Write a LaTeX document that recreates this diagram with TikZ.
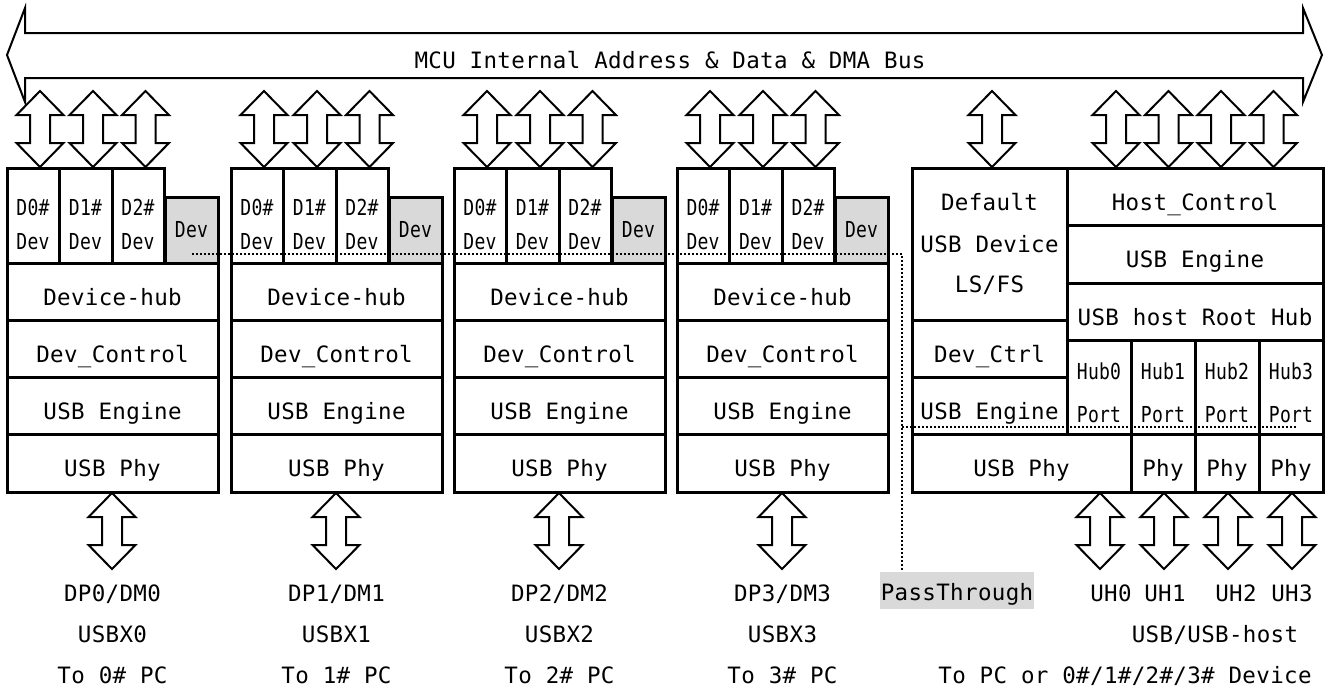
\documentclass[tikz,border=0pt]{standalone}
\usepackage{fontspec}
\setmainfont[LetterSpace=1.5]{DejaVu Sans Mono}
\newfontfamily\smallf[FakeStretch=0.82,LetterSpace=1]{DejaVu Sans Mono}
\definecolor{greyfill}{RGB}{217,217,217}
\begin{document}
\begin{tikzpicture}[x=1pt,y=-1pt,
  font=\fontsize{22.5}{26}\selectfont,
  lay/.style={draw, line width=3pt, inner sep=0pt, outer sep=0pt, text height=27pt, text depth=0pt},
  greybox/.style={lay, fill=greyfill, text height=14pt},
  lbl/.style={inner sep=0pt, anchor=base},
  sml/.style={lbl, font=\smallf\fontsize{22}{26}\selectfont},
  arr/.style={draw, line width=2pt, fill=white, line join=miter},
  dots/.style={line width=2.2pt, dash pattern=on 2pt off 2pt},
  dbl/.pic={\path[arr] (0,0) -- (23.5,24) -- (10,24) -- (10,52) -- (23.5,52) -- (0,76)
     -- (-23.5,52) -- (-10,52) -- (-10,24) -- (-23.5,24) -- cycle;}
]
\fill[white] (0,0) rectangle (1329,691);
\useasboundingbox (0,0) rectangle (1329,691);

% bus
\path[arr] (7,55) -- (25,8) -- (25,33) -- (1303,33) -- (1303,8) -- (1322,55)
  -- (1303,102) -- (1303,78) -- (25,78) -- (25,102) -- cycle;
\node[lbl] (bus) at (670,68) {MCU Internal Address \& Data \& DMA Bus};

% grey Dev boxes
\foreach \i/\L in {0/7,1/231,2/454,3/677} {
  \node[greybox, minimum width=53pt, minimum height=66pt] (gd\i) at (\L+184.5,230) {\smallf\fontsize{22}{26}\selectfont Dev};
}

% pass-through dotted lines
\coordinate (p0) at (192,254);
\coordinate (p1) at (902,254);
\coordinate (p2) at (902,570);
\coordinate (p3) at (902,427);
\coordinate (p4) at (1297,427);
\draw[dots] (p0) -- (p1) -- (p2);
\draw[dots] (p3) -- (p4);

% device columns
\foreach \i/\L in {0/7,1/231,2/454,3/677} {
  \pic at (\L+33,91) {dbl};
  \pic at (\L+86,91) {dbl};
  \pic at (\L+138.5,91) {dbl};
  \node[lay, minimum width=52pt, minimum height=95pt] (da\i) at (\L+26,215.5) {};
  \node[lay, minimum width=53pt, minimum height=95pt] (db\i) at (\L+78.5,215.5) {};
  \node[lay, minimum width=52pt, minimum height=95pt] (dc\i) at (\L+131,215.5) {};
  \node[sml] (dat\i) at (\L+26,215) {D0\#};
  \node[sml] (dav\i) at (\L+26,249) {Dev};
  \node[sml] (dbt\i) at (\L+78.5,215) {D1\#};
  \node[sml] (dbv\i) at (\L+78.5,249) {Dev};
  \node[sml] (dct\i) at (\L+131,215) {D2\#};
  \node[sml] (dcv\i) at (\L+131,249) {Dev};
  \node[lay, minimum width=211pt, minimum height=57pt] (hub\i) at (\L+105.5,291.5) {Device-hub};
  \node[lay, minimum width=211pt, minimum height=57pt] (ctl\i) at (\L+105.5,348.5) {Dev\_Control};
  \node[lay, minimum width=211pt, minimum height=57pt] (eng\i) at (\L+105.5,405.5) {USB Engine};
  \node[lay, minimum width=211pt, minimum height=58pt] (phy\i) at (\L+105.5,463) {USB Phy};
  \pic at (\L+105,493) {dbl};
  \node[lbl] (dp\i) at (\L+105.5,601) {DP\i/DM\i};
  \node[lbl] (ux\i) at (\L+105.5,642) {USBX\i};
  \node[lbl] (pc\i) at (\L+105.5,683) {To \i\# PC};
}

% right block: top arrows
\foreach \x in {992,1116,1168.5,1221,1273.5} { \pic at (\x,91) {dbl}; }

\node[lay, minimum width=155pt, minimum height=152pt] (dflt) at (989.5,244) {};
\node[lbl] (dflt1) at (989.5,210) {Default};
\node[lbl] (dflt2) at (989.5,252) {USB Device};
\node[lbl] (dflt3) at (989.5,292) {LS/FS};
\node[lay, minimum width=155pt, minimum height=57pt] (dctl) at (989.5,348.5) {Dev\_Ctrl};
\node[lay, minimum width=155pt, minimum height=57pt] (leng) at (989.5,405.5) {USB Engine};
\node[lay, minimum width=219pt, minimum height=58pt] (lphy) at (1021.5,463) {USB Phy};

\node[lay, minimum width=256pt, minimum height=57pt] (hctl) at (1195,196.5) {Host\_Control};
\node[lay, minimum width=256pt, minimum height=58pt] (heng) at (1195,254) {USB Engine};
\node[lay, minimum width=256pt, minimum height=57pt] (root) at (1195,311.5) {USB host Root Hub};

\foreach \k/\x in {0/1099,1/1163,2/1227,3/1291} {
  \node[lay, minimum width=64pt, minimum height=94pt] (hp\k) at (\x,387) {};
  \node[sml] (hpt\k) at (\x,379) {Hub\k};
  \node[sml] (hpp\k) at (\x,422) {Port};
}
\foreach \k/\x in {1/1163,2/1227,3/1291} {
  \node[lay, minimum width=64pt, minimum height=58pt] (ph\k) at (\x,463) {Phy};
}

% right block: bottom arrows
\foreach \x in {1100,1164,1228,1292} { \pic at (\x,493) {dbl}; }

\node[lay, draw=none, fill=greyfill, minimum width=154pt, minimum height=37pt, text height=19pt] (pass) at (957,590.5) {PassThrough};
\node[lbl] (uh0) at (1111,601) {UH0};
\node[lbl] (uh1) at (1165,601) {UH1};
\node[lbl] (uh2) at (1236,601) {UH2};
\node[lbl] (uh3) at (1292,601) {UH3};
\node[lbl] (uhost) at (1215,642) {USB/USB-host};
\node[lbl] (topc) at (1125,683) {To PC or 0\#/1\#/2\#/3\# Device};
\end{tikzpicture}
\end{document}
